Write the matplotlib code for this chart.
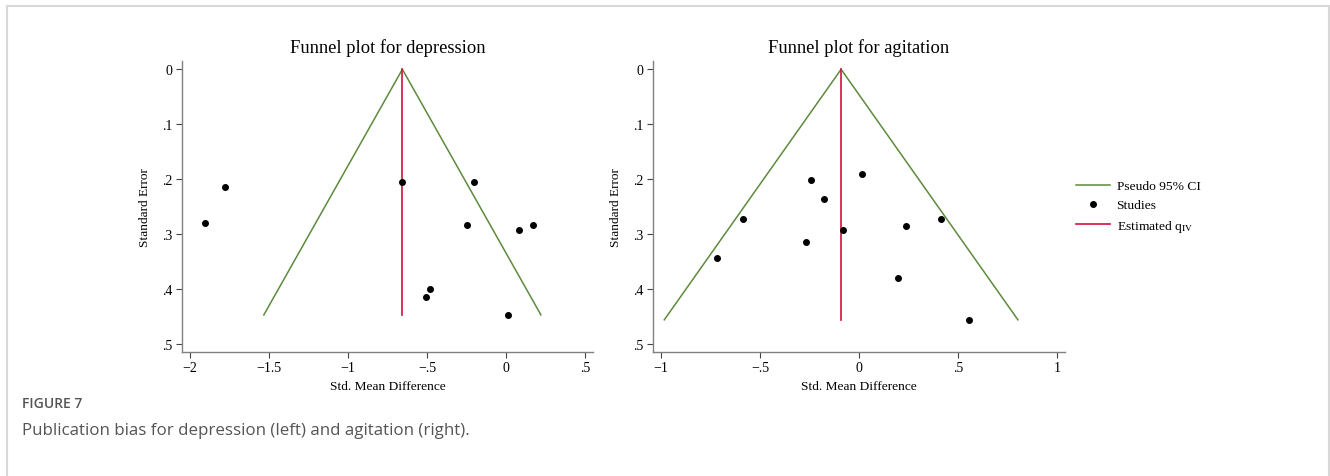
import numpy as np
import matplotlib
matplotlib.use("Agg")
import matplotlib.pyplot as plt
from matplotlib.lines import Line2D

plt.rcParams['font.family'] = ['Liberation Serif', 'DejaVu Serif']
plt.rcParams['mathtext.fontset'] = 'stix'
plt.rcParams['axes.unicode_minus'] = True

# depression: effect sizes and standard errors
dep_smd = [-1.907, -1.777, -0.657, -0.204, -0.246, 0.083, 0.169, -0.482, -0.508, 0.011]
dep_se = [0.280, 0.215, 0.206, 0.206, 0.284, 0.292, 0.284, 0.399, 0.415, 0.447]
dep_theta = -0.657

# agitation
agi_smd = [-0.715, -0.584, -0.240, -0.174, -0.269, -0.080, 0.016, 0.240, 0.417, 0.200, 0.555]
agi_se = [0.344, 0.273, 0.201, 0.236, 0.314, 0.292, 0.191, 0.285, 0.273, 0.380, 0.456]
agi_theta = -0.090

dep_xticks = [-2, -1.5, -1, -0.5, 0, 0.5]
agi_xticks = [-1, -0.5, 0, 0.5, 1]
yticks = [0, 0.1, 0.2, 0.3, 0.4, 0.5]

green = '#5d8a3c'
red = '#d2103c'
spine_col = '#808080'


def fmt(v):
    if v == 0:
        return '0'
    s = ('%g' % abs(v))
    if s.startswith('0.'):
        s = s[1:]
    return ('\u2212' if v < 0 else '') + s


def funnel(ax, smd, se, theta, xticks, xlim, title):
    se_max = max(se)
    ax.plot([theta - 1.96 * se_max, theta, theta + 1.96 * se_max], [se_max, 0, se_max],
            color=green, lw=1.1, zorder=2)
    ax.plot([theta, theta], [0, se_max], color=red, lw=1.2, zorder=3)
    ax.scatter(smd, se, s=16, color='black', zorder=4)
    ax.set_xlim(*xlim)
    ax.set_ylim(0.514, -0.0146)
    ax.set_xticks(xticks)
    ax.set_xticklabels([fmt(v) for v in xticks])
    ax.set_yticks(yticks)
    ax.set_yticklabels([fmt(v) for v in yticks])
    for s in ['top', 'right']:
        ax.spines[s].set_visible(False)
    for s in ['left', 'bottom']:
        ax.spines[s].set_color(spine_col)
        ax.spines[s].set_linewidth(1.0)
    ax.tick_params(direction='out', length=4, width=0.8, color='#444444',
                   labelsize=10, pad=3)
    ax.set_xlabel('Std. Mean Difference', fontsize=9.6, labelpad=4)
    ax.set_ylabel('Standard Error', fontsize=9.6, labelpad=8)
    ax.set_title(title, fontsize=13.3, pad=7)


fig = plt.figure(figsize=(13.3, 4.77), dpi=100)
ax1 = fig.add_axes([0.1368, 0.2606, 0.309, 0.6088])
ax2 = fig.add_axes([0.4908, 0.2606, 0.310, 0.6088])

funnel(ax1, dep_smd, dep_se, dep_theta, dep_xticks, (-2.051, 0.548), 'Funnel plot for depression')
funnel(ax2, agi_smd, agi_se, agi_theta, agi_xticks, (-1.042, 1.042), 'Funnel plot for agitation')

handles = [Line2D([], [], color=green, lw=1.1),
           Line2D([], [], color='black', marker='o', ms=4, lw=0),
           Line2D([], [], color=red, lw=1.2)]
labels = ['Pseudo 95% CI', 'Studies', r'Estimated q$_{\mathrm{IV}}$']
fig.legend(handles, labels, loc='center left', bbox_to_anchor=(1064 / 1330, 1 - 208 / 477),
           frameon=False, fontsize=9.7, handlelength=2.5, handletextpad=0.5, labelspacing=0.5)

# caption
fig.text(22 / 1330, 1 - 404 / 477, 'FIGURE 7', fontsize=10, color='#555555', weight='semibold',
         family=['Open Sans', 'DejaVu Sans'], va='center', ha='left')
fig.text(22 / 1330, 1 - 431 / 477, 'Publication bias for depression (left) and agitation (right).',
         fontsize=12.2, color='#555555', family=['Open Sans', 'DejaVu Sans'], va='center', ha='left')

# page frame
frame = '#d8d8d8'
fig.add_artist(Line2D([6.5 / 1330, 1329 / 1330], [1 - 6.5 / 477, 1 - 6.5 / 477], color=frame, lw=1.5))
fig.add_artist(Line2D([6.5 / 1330, 6.5 / 1330], [0, 1 - 6.5 / 477], color=frame, lw=1.5))
fig.add_artist(Line2D([1329 / 1330, 1329 / 1330], [0, 1 - 6.5 / 477], color=frame, lw=1.5))

fig.savefig('out.png', dpi=100)
